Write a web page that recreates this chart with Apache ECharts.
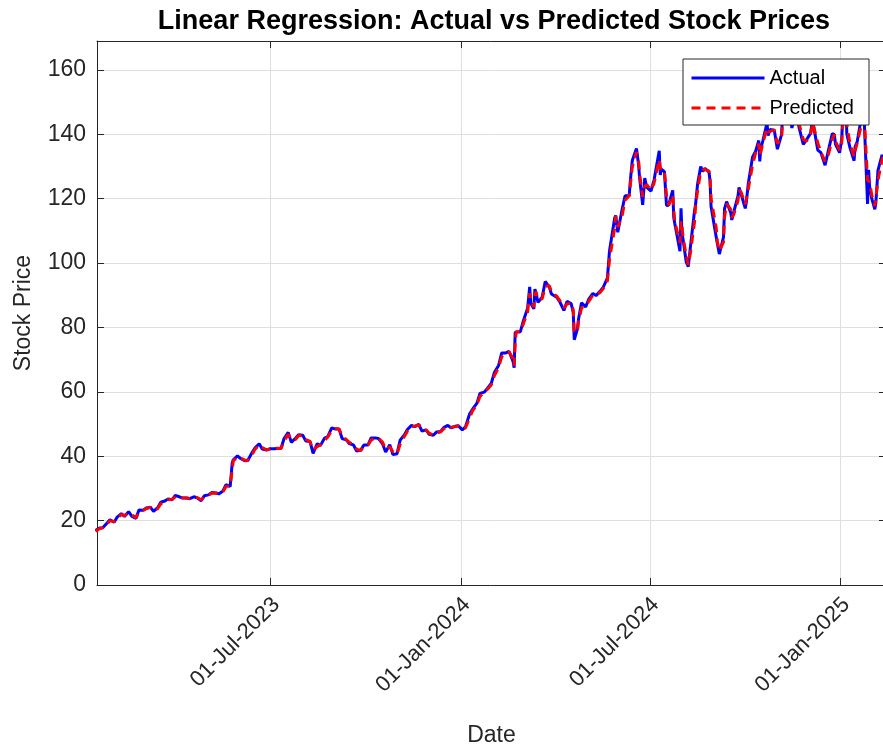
<!DOCTYPE html>
<html>
<head>
<meta charset="utf-8">
<script src="https://cdn.jsdelivr.net/npm/echarts@6/dist/echarts.min.js"></script>
<style>
  html, body { margin: 0; padding: 0; background: #fff; }
  #chart { width: 883px; height: 749px; }
</style>
</head>
<body>
<div id="chart"></div>
<script>
// Trading dates (sampled) and closing prices with the regression's predictions
const dates = [
  '2023-01-13','2023-01-17','2023-01-20','2023-01-24','2023-01-27','2023-01-31','2023-02-03','2023-02-07','2023-02-10','2023-02-14',
  '2023-02-17','2023-02-21','2023-02-24','2023-02-28','2023-03-03','2023-03-07','2023-03-10','2023-03-14','2023-03-17','2023-03-21',
  '2023-03-24','2023-03-28','2023-03-31','2023-04-04','2023-04-07','2023-04-11','2023-04-14','2023-04-18','2023-04-21','2023-04-25',
  '2023-04-28','2023-05-02','2023-05-05','2023-05-09','2023-05-12','2023-05-16','2023-05-19','2023-05-23','2023-05-24','2023-05-25',
  '2023-05-26','2023-05-30','2023-06-02','2023-06-06','2023-06-09','2023-06-13','2023-06-16','2023-06-20','2023-06-23','2023-06-27',
  '2023-06-30','2023-07-05','2023-07-07','2023-07-11','2023-07-14','2023-07-18','2023-07-21','2023-07-25','2023-07-28','2023-08-01',
  '2023-08-04','2023-08-08','2023-08-11','2023-08-15','2023-08-18','2023-08-22','2023-08-25','2023-08-29','2023-09-01','2023-09-05',
  '2023-09-08','2023-09-12','2023-09-15','2023-09-19','2023-09-22','2023-09-26','2023-09-29','2023-10-03','2023-10-06','2023-10-10',
  '2023-10-13','2023-10-17','2023-10-20','2023-10-24','2023-10-27','2023-10-31','2023-11-03','2023-11-07','2023-11-10','2023-11-14',
  '2023-11-17','2023-11-21','2023-11-24','2023-11-28','2023-12-01','2023-12-05','2023-12-08','2023-12-12','2023-12-15','2023-12-19',
  '2023-12-22','2023-12-26','2023-12-29','2024-01-02','2024-01-05','2024-01-09','2024-01-12','2024-01-16','2024-01-19','2024-01-23',
  '2024-01-26','2024-01-30','2024-02-02','2024-02-06','2024-02-09','2024-02-13','2024-02-16','2024-02-20','2024-02-21','2024-02-22',
  '2024-02-23','2024-02-27','2024-03-01','2024-03-05','2024-03-07','2024-03-08','2024-03-11','2024-03-12','2024-03-13','2024-03-15',
  '2024-03-19','2024-03-22','2024-03-26','2024-03-28','2024-04-02','2024-04-05','2024-04-09','2024-04-12','2024-04-16','2024-04-18',
  '2024-04-19','2024-04-22','2024-04-23','2024-04-26','2024-04-30','2024-05-03','2024-05-07','2024-05-10','2024-05-14','2024-05-17',
  '2024-05-21','2024-05-22','2024-05-23','2024-05-28','2024-05-29','2024-05-31','2024-06-04','2024-06-07','2024-06-11','2024-06-12',
  '2024-06-14','2024-06-18','2024-06-20','2024-06-21','2024-06-24','2024-06-26','2024-06-28','2024-07-02','2024-07-05','2024-07-10',
  '2024-07-11','2024-07-12','2024-07-15','2024-07-17','2024-07-19','2024-07-23','2024-07-24','2024-07-25','2024-07-30','2024-07-31',
  '2024-08-01','2024-08-02','2024-08-05','2024-08-07','2024-08-09','2024-08-13','2024-08-14','2024-08-16','2024-08-19','2024-08-21',
  '2024-08-23','2024-08-27','2024-08-28','2024-08-29','2024-09-03','2024-09-04','2024-09-06','2024-09-10','2024-09-11','2024-09-13',
  '2024-09-17','2024-09-18','2024-09-20','2024-09-24','2024-09-25','2024-09-27','2024-10-01','2024-10-02','2024-10-04','2024-10-08',
  '2024-10-11','2024-10-14','2024-10-15','2024-10-16','2024-10-18','2024-10-22','2024-10-23','2024-10-25','2024-10-29','2024-11-01',
  '2024-11-05','2024-11-06','2024-11-08','2024-11-12','2024-11-15','2024-11-19','2024-11-20','2024-11-22','2024-11-26','2024-11-29',
  '2024-12-03','2024-12-05','2024-12-06','2024-12-10','2024-12-13','2024-12-17','2024-12-20','2024-12-24','2024-12-26','2024-12-27',
  '2024-12-31','2025-01-02','2025-01-03','2025-01-06','2025-01-07','2025-01-10','2025-01-14','2025-01-15','2025-01-17','2025-01-22',
  '2025-01-23','2025-01-24','2025-01-27','2025-01-28','2025-01-29','2025-01-31','2025-02-03','2025-02-04','2025-02-06','2025-02-10',
  '2025-02-11'
];

const actual = [
  16.9,17.7,17.8,19.2,20.3,19.5,21.1,22.2,21.3,22.8,
  21.4,20.7,23.3,23.2,23.9,24.2,22.9,24.0,25.7,26.1,
  26.7,26.5,27.8,27.4,27.0,27.0,26.8,27.4,27.1,26.2,
  27.7,28.0,28.7,28.6,28.3,29.2,31.2,30.6,30.5,38.0,
  38.9,40.1,39.3,38.6,38.7,41.1,42.6,43.9,42.2,41.9,
  42.3,42.3,42.5,42.4,45.5,47.4,44.3,45.6,46.7,46.5,
  44.7,44.6,40.9,43.9,43.3,45.6,46.0,48.8,48.5,48.5,
  45.5,45.1,43.9,43.5,41.6,41.9,43.5,43.5,45.7,45.7,
  45.5,43.9,41.3,43.6,40.5,40.8,45.0,46.6,48.3,49.6,
  49.2,49.9,47.8,48.2,46.8,46.5,47.5,47.7,48.9,49.6,
  48.8,49.3,49.5,48.2,49.1,53.1,54.7,56.4,59.5,59.9,
  61.0,62.7,66.1,68.2,72.1,72.1,72.6,69.4,67.5,78.5,
  78.8,78.7,82.2,86.0,92.6,87.5,85.8,91.9,90.8,87.8,
  89.4,94.3,92.5,90.4,89.4,88.0,85.3,88.1,87.4,84.7,
  76.2,79.5,82.4,87.7,86.4,88.8,90.6,89.9,91.3,92.5,
  95.4,94.9,103.8,114.0,114.8,109.6,116.4,120.9,120.9,125.2,
  131.9,135.6,130.8,126.6,118.1,126.4,123.5,122.4,125.8,134.9,
  127.4,129.2,128.4,117.9,118.0,122.6,114.2,112.3,103.7,117.0,
  109.2,107.3,100.4,98.9,104.8,116.1,118.1,124.6,130.0,128.5,
  129.4,128.3,125.6,117.6,108.0,106.2,102.8,108.1,116.9,119.1,
  115.6,113.4,116.0,120.9,123.5,121.4,117.0,118.9,124.9,132.9,
  134.8,138.1,131.6,135.7,138.0,143.6,139.6,141.5,141.3,135.4,
  139.9,145.6,147.6,148.3,142.0,147.0,145.9,142.0,136.9,138.3,
  140.3,145.1,142.4,135.1,134.3,130.4,134.7,140.2,139.9,137.0,
  134.3,138.3,144.5,149.4,140.1,135.9,131.8,136.2,137.7,147.1,
  147.2,142.6,118.4,129.0,123.7,120.1,116.7,118.7,128.7,133.6,
  132.8
];

const predicted = [
  16.7,17.5,17.8,18.8,20.0,19.7,20.6,21.9,21.6,22.4,
  21.8,20.9,22.5,23.2,23.7,24.1,23.3,23.7,25.2,26.0,
  26.5,26.6,27.4,27.5,27.1,27.0,26.9,27.2,27.2,26.5,
  27.3,27.9,28.5,28.6,28.4,28.9,30.6,30.8,30.5,35.8,
  38.6,39.7,39.5,38.8,38.7,40.4,42.2,43.5,42.7,42.0,
  42.2,42.3,42.4,42.4,44.6,46.8,45.2,45.2,46.4,46.6,
  45.2,44.6,42.0,43.0,43.5,44.9,45.9,48.0,48.6,48.5,
  46.4,45.2,44.3,43.6,42.2,41.8,43.0,43.5,45.0,45.7,
  45.6,44.4,42.1,42.9,41.4,40.7,43.7,46.1,47.8,49.2,
  49.3,49.7,48.4,48.1,47.2,46.6,47.2,47.6,48.5,49.4,
  49.0,49.2,49.4,48.6,48.8,51.9,54.2,55.9,58.6,59.8,
  60.7,62.2,65.1,67.6,70.9,72.1,72.4,70.4,68.1,75.2,
  78.7,78.7,81.2,84.9,90.6,89.0,86.3,90.1,91.1,88.7,
  88.9,92.8,93.0,91.0,89.7,88.4,86.1,87.3,87.6,85.5,
  78.8,78.5,81.5,86.1,86.8,88.1,90.1,90.1,90.9,92.1,
  94.5,95.0,101.1,110.9,114.6,111.2,114.4,119.5,120.9,123.9,
  129.9,134.5,132.2,127.9,120.6,123.9,124.4,122.7,124.8,132.2,
  129.7,128.7,128.6,121.1,118.0,121.2,116.7,112.9,106.3,113.0,
  111.5,107.9,102.5,99.4,103.0,112.7,117.5,122.6,128.4,129.0,
  129.1,128.6,126.4,120.0,110.9,106.7,103.8,106.5,114.3,118.4,
  116.7,114.1,115.2,119.4,122.7,122.0,118.3,118.3,123.1,130.5,
  134.2,137.1,133.6,134.5,137.3,141.9,140.8,140.9,141.4,137.2,
  138.6,143.9,147.0,148.1,143.9,145.5,146.2,143.2,138.4,137.9,
  139.7,143.7,143.2,137.3,134.5,131.6,133.4,138.6,140.0,137.9,
  135.1,137.1,142.6,147.9,142.9,137.2,133.0,134.9,137.3,144.3,
  147.2,144.0,125.7,125.8,125.3,121.2,117.7,118.1,125.7,132.1,
  133.0
];

// Tick positions on both axes
const xTicks = ['2023-07-01', '2024-01-01', '2024-07-01', '2025-01-01'];
const xTickLabels = ['01-Jul-2023', '01-Jan-2024', '01-Jul-2024', '01-Jan-2025'];
const yTicks = [0, 20, 40, 60, 80, 100, 120, 140, 160];

const FONT = '"Liberation Sans", Arial, Helvetica, sans-serif';
const AXIS_COLOR = '#262626';
const GRID_COLOR = '#dfdfdf';

// Dates are placed on a numeric axis in milliseconds (UTC)
const toMs = s => Date.parse(s + 'T00:00:00Z');
const xMin = Date.parse('2023-01-14T12:00:00Z');
const xMax = Date.parse('2025-02-13T19:00:00Z');
const xTickTimes = xTicks.map(toMs);

const chart = echarts.init(document.getElementById('chart'), null, { renderer: 'canvas' });

const baseX = {
  type: 'value',
  min: xMin,
  max: xMax,
  axisLine: { show: true, onZero: false, lineStyle: { color: AXIS_COLOR, width: 1 } },
  axisTick: { show: true, inside: true, length: 7, customValues: xTickTimes, lineStyle: { color: AXIS_COLOR } },
  splitLine: { show: false }
};
const baseY = {
  type: 'value',
  min: 0,
  max: 169,
  axisLine: { show: true, onZero: false, lineStyle: { color: AXIS_COLOR, width: 1 } },
  axisTick: { show: true, inside: true, length: 7, customValues: yTicks, lineStyle: { color: AXIS_COLOR } },
  splitLine: { show: false }
};

chart.setOption({
  animation: false,
  backgroundColor: '#ffffff',
  textStyle: { fontFamily: FONT },
  title: {
    text: 'Linear Regression: Actual vs Predicted Stock Prices',
    left: 489,
    top: 3,
    textAlign: 'center',
    textStyle: { fontFamily: FONT, fontSize: 27, fontWeight: 'bold', color: '#000' }
  },
  legend: {
    orient: 'vertical',
    left: 683,
    top: 59,
    data: ['Actual', 'Predicted'],
    backgroundColor: '#ffffff',
    borderColor: AXIS_COLOR,
    borderWidth: 1,
    borderRadius: 0,
    padding: [9, 15, 7, 7],
    itemWidth: 73,
    itemHeight: 20,
    itemGap: 10,
    itemStyle: { opacity: 0 },
    lineStyle: { width: 3 },
    textStyle: { fontFamily: FONT, fontSize: 20, color: '#000' }
  },
  grid: { left: 97, right: -3, top: 41, bottom: 164, containLabel: false, outerBoundsMode: 'none' },
  xAxis: [
    Object.assign({}, baseX, {
      position: 'bottom',
      name: 'Date',
      nameLocation: 'middle',
      nameGap: 139,
      nameTextStyle: { fontFamily: FONT, fontSize: 23, color: AXIS_COLOR },
      splitLine: { show: true, lineStyle: { color: GRID_COLOR, width: 1 } },
      axisLabel: {
        customValues: xTickTimes,
        rotate: 45,
        margin: 22,
        padding: [0, -8, 0, 0],
        fontFamily: FONT,
        fontSize: 22,
        color: AXIS_COLOR,
        formatter: v => {
          const i = xTickTimes.indexOf(v);
          return i >= 0 ? xTickLabels[i] : '';
        }
      }
    }),
    Object.assign({}, baseX, {
      position: 'top',
      axisLabel: { show: false }
    })
  ],
  yAxis: [
    Object.assign({}, baseY, {
      position: 'left',
      name: 'Stock Price',
      nameLocation: 'middle',
      nameGap: 62,
      nameTextStyle: { fontFamily: FONT, fontSize: 23, color: AXIS_COLOR },
      splitLine: { show: true, lineStyle: { color: GRID_COLOR, width: 1 } },
      axisLabel: {
        customValues: yTicks,
        margin: 11,
        fontFamily: FONT,
        fontSize: 23,
        color: AXIS_COLOR
      }
    }),
    Object.assign({}, baseY, {
      position: 'right',
      axisLabel: { show: false }
    })
  ],
  series: [
    {
      name: 'Actual',
      type: 'line',
      xAxisIndex: 0,
      yAxisIndex: 0,
      data: dates.map((d, i) => [toMs(d), actual[i]]),
      showSymbol: false,
      symbol: 'none',
      lineStyle: { color: '#0000ff', width: 3, type: 'solid' },
      itemStyle: { color: '#0000ff' },
      z: 2
    },
    {
      name: 'Predicted',
      type: 'line',
      xAxisIndex: 0,
      yAxisIndex: 0,
      data: dates.map((d, i) => [toMs(d), predicted[i]]),
      showSymbol: false,
      symbol: 'none',
      lineStyle: { color: '#ff0000', width: 3, type: [9, 6] },
      itemStyle: { color: '#ff0000' },
      z: 3
    }
  ]
});
</script>
</body>
</html>
